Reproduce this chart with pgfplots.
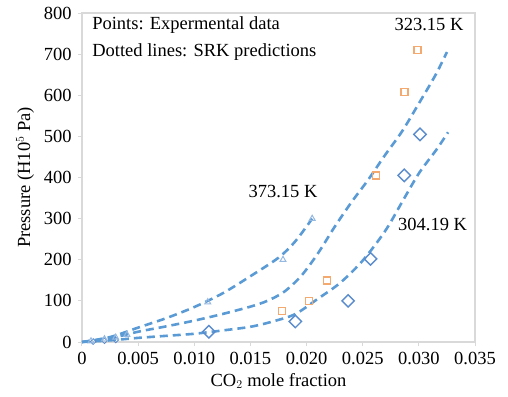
\documentclass[border=0pt]{standalone}
\usepackage{fontspec}
\setmainfont{Liberation Serif}
\usepackage{pgfplots}
\pgfplotsset{compat=1.18}
\definecolor{lineblue}{RGB}{91,155,213}
\definecolor{diablue}{RGB}{90,140,205}
\definecolor{sqorange}{RGB}{244,170,110}
\definecolor{triblue}{RGB}{150,185,225}
\definecolor{framegray}{RGB}{217,217,217}
\begin{document}
\fontsize{18.5}{22}\selectfont
\begin{tikzpicture}
\begin{axis}[
  at={(0,0)}, anchor=south west,
  scale only axis,
  width=393pt, height=329pt,
  xmin=0, xmax=0.035, ymin=0, ymax=800,
  xtick={0,0.005,0.010,0.015,0.020,0.025,0.030,0.035},
  xticklabels={0,0.005,0.010,0.015,0.020,0.025,0.030,0.035},
  ytick={0,100,...,800},
  /pgf/number format/assume math mode=true,
  scaled x ticks=false,
  tick align=outside,
  tick pos=left,
  major tick length=4pt,
  tick style={framegray, line width=1pt},
  axis line style={framegray, line width=1.5pt},
  tick label style={font=\fontsize{18.5}{22}\selectfont, black},
  label style={font=\fontsize{18.5}{22}\selectfont},
  xlabel={CO$_2$ mole fraction},
  ylabel={Pressure (H10$^5$ Pa)},
  xlabel style={at={(axis description cs:0.5,-0.1185)}, anchor=center},
  ylabel style={at={(axis description cs:-0.145,0.5)}, anchor=center},
  clip=false,
]
% SRK predictions
\addplot[lineblue, line width=2.6pt, dash pattern=on 8pt off 5pt, smooth, tension=0.5] coordinates {
 (0,0)(0.0025,12)(0.005,35)(0.0075,58)(0.010,85)(0.0125,118)(0.015,160)(0.0175,205)(0.019,245)(0.0205,300)};
\addplot[lineblue, line width=2.6pt, dash pattern=on 8pt off 5pt, smooth, tension=0.5] coordinates {
 (0,0)(0.0025,9)(0.005,25)(0.0075,38)(0.010,52)(0.0125,68)(0.015,86)(0.0165,100)(0.018,122)(0.0195,160)(0.021,215)(0.0225,280)(0.024,340)(0.0255,395)(0.027,455)(0.0285,512)(0.030,580)(0.0315,650)(0.0325,705)};
\addplot[lineblue, line width=2.6pt, dash pattern=on 8pt off 5pt, smooth, tension=0.5] coordinates {
 (0,0)(0.0025,4)(0.005,10)(0.0075,15)(0.010,20)(0.0125,28)(0.015,37)(0.017,50)(0.019,68)(0.021,105)(0.023,144)(0.025,198)(0.027,270)(0.0285,340)(0.030,410)(0.0316,469)(0.0326,510)};
% experimental: 304.19 K
\addplot[only marks, mark=square, mark size=4.4pt, mark options={diablue, line width=1.4pt, rotate=45}] coordinates {
 (0.0113,25)(0.0190,50)(0.0237,100)(0.0257,202)(0.0287,405)(0.0301,505)};
\addplot[only marks, mark=square, mark size=2pt, mark options={diablue, line width=0.8pt, rotate=45}] coordinates {
 (0.0010,1)(0.0020,3)(0.0030,5)};
% experimental: 323.15 K
\addplot[only marks, mark=square, mark size=3.5pt, mark options={sqorange, line width=1.5pt}] coordinates {
 (0.0178,75)(0.0202,100)(0.0218,150)(0.0262,405)(0.0287,608)(0.0299,710)};
% experimental: 373.15 K
\addplot[only marks, mark=triangle, mark size=3.4pt, mark options={triblue, line width=1pt}] coordinates {
 (0.0112,97)(0.0179,200)(0.0205,300)(0.0008,2)(0.0020,7)(0.0030,11)(0.0040,18)};
% annotations
\node[anchor=west, inner sep=0pt] at (axis cs:0.0009,770) {Points: Expermental data};
\node[anchor=west, inner sep=0pt] at (axis cs:0.0009,705) {Dotted lines: SRK predictions};
\node at (axis cs:0.0309,773) {323.15 K};
\node at (axis cs:0.0179,367) {373.15 K};
\node at (axis cs:0.03122,286) {304.19 K};
% frame top and right
\draw[framegray, line width=1.5pt] (rel axis cs:0,1) -- (rel axis cs:1,1) -- (rel axis cs:1,0);
\end{axis}
\pgfresetboundingbox
\path[use as bounding box] (-82pt,-54pt) rectangle (426pt,342pt);
\end{tikzpicture}
\end{document}
